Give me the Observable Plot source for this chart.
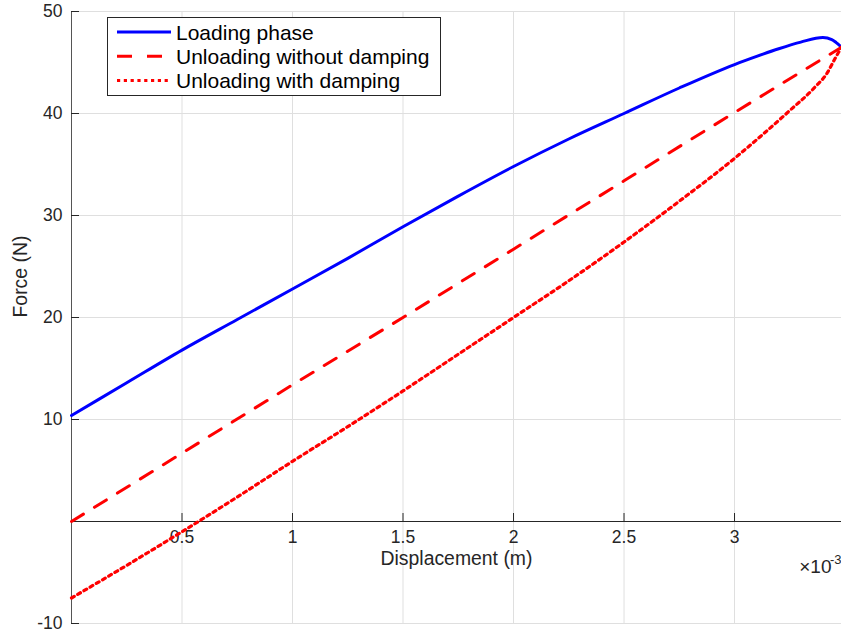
<!DOCTYPE html>
<html>
<head>
<meta charset="utf-8">
<script src="https://cdn.jsdelivr.net/npm/d3@7"></script>
<script src="https://cdn.jsdelivr.net/npm/@observablehq/plot@0.6"></script>
<style>
  html, body { margin: 0; padding: 0; background: #ffffff; }
  #chart { width: 841px; height: 634px; overflow: hidden; }
</style>
</head>
<body>
<div id="chart"></div>
<script>
// ---- Data (displacement in metres, force in newtons) ----
const loadingX = [0, 0.00025, 0.0005, 0.00075, 0.001, 0.00125, 0.0015, 0.00175, 0.002, 0.00225, 0.0025, 0.00275, 0.003, 0.0031, 0.0032, 0.0033, 0.0034, 0.00344, 0.00346, 0.003484];
const loadingF = [10.4, 13.6, 16.8, 19.8, 22.8, 25.8, 28.9, 31.9, 34.8, 37.5, 40.0, 42.5, 44.8, 45.6, 46.35, 47.0, 47.45, 47.25, 46.95, 46.5];

const noDampX = [0, 0.0005, 0.001, 0.0015, 0.002, 0.0025, 0.003, 0.003484];
const noDampF = [0, 6.7, 13.4, 20.0, 26.7, 33.4, 40.1, 46.5];

const dampX = [0, 0.00025, 0.0005, 0.00075, 0.001, 0.00125, 0.0015, 0.00175, 0.002, 0.00225, 0.0025, 0.00275, 0.003, 0.00312, 0.00324, 0.00336, 0.00342, 0.00345, 0.003484];
const dampF = [-7.5, -4.3, -1.0, 2.4, 5.9, 9.3, 12.8, 16.4, 20.0, 23.6, 27.4, 31.4, 35.6, 37.8, 40.1, 42.5, 44.0, 45.2, 46.5];

const seriesNames = ["Loading phase", "Unloading without damping", "Unloading with damping"];

const xTicks = [0.0005, 0.001, 0.0015, 0.002, 0.0025, 0.003];
const xTickLabels = ["0.5", "1", "1.5", "2", "2.5", "3"];
const yGrid = [-10, 0, 10, 20, 30, 40, 50];
const yTickLabels = [-10, 10, 20, 30, 40, 50];
const xDomain = [0, 0.003484];
const yDomain = [-10, 50];

// ---- Tables built from the arrays ----
const loading = loadingX.map((x, i) => ({x, f: loadingF[i]}));
const noDamp = noDampX.map((x, i) => ({x, f: noDampF[i]}));
const damp = dampX.map((x, i) => ({x, f: dampF[i]}));
const xTickData = xTicks.map((v, i) => ({v, label: xTickLabels[i]}));

const FONT = "'Liberation Sans', Arial, Helvetica, sans-serif";
const AX = "#262626";
const GRID = "#dfdfdf";

const svg = Plot.plot({
  width: 841,
  height: 634,
  marginLeft: 71,
  marginRight: 0,
  marginTop: 11,
  marginBottom: 11,
  x: {domain: xDomain, axis: null},
  y: {domain: yDomain, axis: null},
  style: {fontFamily: FONT, background: "#ffffff", color: AX},
  marks: [
    // grid
    Plot.ruleX(xTicks, {stroke: GRID, strokeWidth: 1}),
    Plot.ruleY(yGrid, {stroke: GRID, strokeWidth: 1}),
    // axis lines crossing at origin
    Plot.ruleX([0], {stroke: "#555555", strokeWidth: 1}),
    Plot.ruleY([0], {stroke: AX, strokeWidth: 1}),
    // tick marks (inward)
    Plot.ruleX(xTicks, {y1: 0, y2: 0, insetTop: 0, insetBottom: 8, stroke: AX}),
    Plot.ruleY(yTickLabels, {x1: 0, x2: 0, insetLeft: 0, insetRight: -8, stroke: AX}),
    // tick labels
    Plot.text(xTickData, {x: "v", y: 0, text: "label", dy: 16, fontSize: 17.5, fill: AX}),
    Plot.text(yTickLabels, {x: 0, y: d => d, text: d => String(d), dx: -9, textAnchor: "end", fontSize: 17.5, fill: AX}),
    // data lines
    Plot.line(loading, {x: "x", y: "f", stroke: "#0000ff", strokeWidth: 3, strokeLinejoin: "round", curve: "monotone-x"}),
    Plot.line(noDamp, {x: "x", y: "f", stroke: "#ff0000", strokeWidth: 3, strokeDasharray: "14,13"}),
    Plot.line(damp, {x: "x", y: "f", stroke: "#ff0000", strokeWidth: 3.2, strokeDasharray: "3.2,4", curve: "monotone-x"}),
    // axis labels
    Plot.text(["Displacement (m)"], {frameAnchor: "bottom", dy: -59, fontSize: 19.4, fill: AX}),
    Plot.text(["Force (N)"], {frameAnchor: "left", dx: -51, rotate: -90, fontSize: 19.4, fill: AX}),
    // exponent label
    Plot.text(["\u00d710"], {frameAnchor: "bottom-right", dx: -10, dy: -51, textAnchor: "end", fontSize: 19, fill: AX}),
    Plot.text(["-3"], {frameAnchor: "bottom-right", dx: 0, dy: -60, textAnchor: "end", fontSize: 13, fill: AX})
  ]
});

// ---- Legend (inside plot area, top-left) ----
const lg = d3.select(svg).append("g").attr("font-family", FONT).attr("text-anchor", "start");
lg.append("rect")
  .attr("x", 107.5).attr("y", 17.5).attr("width", 333).attr("height", 78)
  .attr("fill", "#ffffff").attr("stroke", AX).attr("stroke-width", 1);
const legendStyles = [
  {stroke: "#0000ff", dash: null},
  {stroke: "#ff0000", dash: "15,15"},
  {stroke: "#ff0000", dash: "3.2,3.6"}
];
seriesNames.forEach((name, i) => {
  const cy = 32 + i * 24.3;
  lg.append("line")
    .attr("x1", 117).attr("x2", 171).attr("y1", cy).attr("y2", cy)
    .attr("stroke", legendStyles[i].stroke).attr("stroke-width", 3)
    .attr("stroke-dasharray", legendStyles[i].dash);
  lg.append("text")
    .attr("x", 176).attr("y", cy).attr("dy", "0.36em")
    .attr("text-anchor", "start")
    .attr("font-size", 21).attr("fill", "#000000")
    .text(name);
});

document.getElementById("chart").appendChild(svg);
</script>
</body>
</html>
